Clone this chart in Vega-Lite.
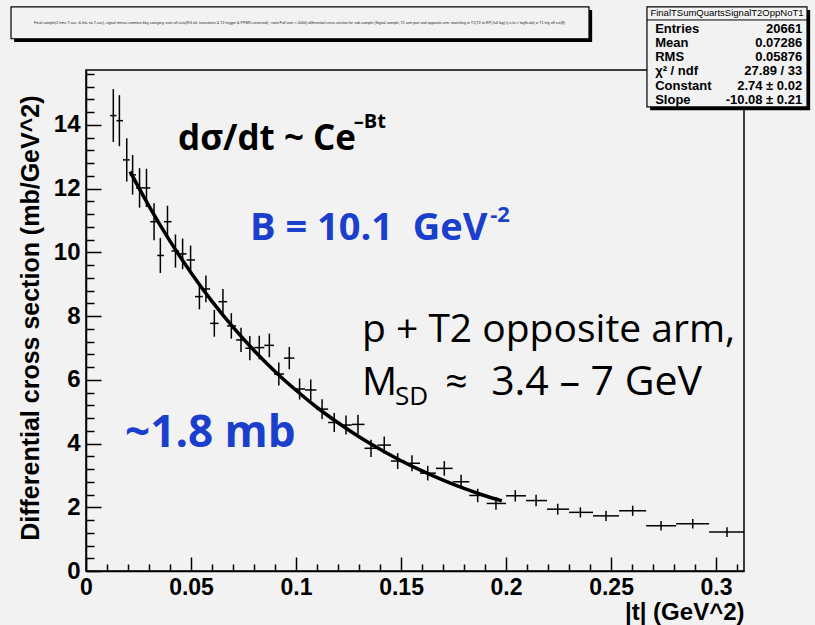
{
  "$schema": "https://vega.github.io/schema/vega-lite/v6.json",
  "width": 658,
  "height": 501,
  "autosize": {"type": "none"},
  "padding": {"left": 86, "top": 70, "right": 71, "bottom": 54},
  "background": "#f2f2f2",
  "config": {"view": {"stroke": "black", "strokeWidth": 1.5, "fill": "#f2f2f2"}},
  "resolve": {"axis": {"x": "independent", "y": "independent"}},
  "datasets": {
    "points": [
      {"t": 0.0130, "v": 14.29, "lo": 13.46, "hi": 15.12, "tlo": 0.0115, "thi": 0.0145},
      {"t": 0.0159, "v": 14.13, "lo": 13.33, "hi": 14.93, "tlo": 0.0145, "thi": 0.0176},
      {"t": 0.0194, "v": 12.90, "lo": 12.22, "hi": 13.58, "tlo": 0.0176, "thi": 0.0208},
      {"t": 0.0222, "v": 12.43, "lo": 11.81, "hi": 13.05, "tlo": 0.0208, "thi": 0.0238},
      {"t": 0.0255, "v": 12.02, "lo": 11.40, "hi": 12.64, "tlo": 0.0238, "thi": 0.0271},
      {"t": 0.0288, "v": 12.02, "lo": 11.42, "hi": 12.62, "tlo": 0.0271, "thi": 0.0306},
      {"t": 0.0324, "v": 10.96, "lo": 10.38, "hi": 11.54, "tlo": 0.0306, "thi": 0.0339},
      {"t": 0.0354, "v": 9.90, "lo": 9.35, "hi": 10.45, "tlo": 0.0339, "thi": 0.0371},
      {"t": 0.0388, "v": 10.96, "lo": 10.46, "hi": 11.46, "tlo": 0.0371, "thi": 0.0407},
      {"t": 0.0426, "v": 10.04, "lo": 9.52, "hi": 10.56, "tlo": 0.0407, "thi": 0.0443},
      {"t": 0.0460, "v": 9.95, "lo": 9.47, "hi": 10.43, "tlo": 0.0443, "thi": 0.0479},
      {"t": 0.0498, "v": 9.76, "lo": 9.31, "hi": 10.21, "tlo": 0.0479, "thi": 0.0519},
      {"t": 0.0540, "v": 8.61, "lo": 8.21, "hi": 9.01, "tlo": 0.0519, "thi": 0.0556},
      {"t": 0.0571, "v": 8.85, "lo": 8.43, "hi": 9.27, "tlo": 0.0556, "thi": 0.0591},
      {"t": 0.0611, "v": 7.77, "lo": 7.35, "hi": 8.19, "tlo": 0.0591, "thi": 0.0631},
      {"t": 0.0652, "v": 8.45, "lo": 8.05, "hi": 8.85, "tlo": 0.0631, "thi": 0.0672},
      {"t": 0.0692, "v": 7.69, "lo": 7.29, "hi": 8.09, "tlo": 0.0672, "thi": 0.0715},
      {"t": 0.0738, "v": 7.25, "lo": 6.87, "hi": 7.63, "tlo": 0.0715, "thi": 0.0759},
      {"t": 0.0780, "v": 6.99, "lo": 6.61, "hi": 7.37, "tlo": 0.0759, "thi": 0.0802},
      {"t": 0.0825, "v": 7.01, "lo": 6.64, "hi": 7.38, "tlo": 0.0802, "thi": 0.0849},
      {"t": 0.0873, "v": 7.08, "lo": 6.71, "hi": 7.45, "tlo": 0.0849, "thi": 0.0895},
      {"t": 0.0918, "v": 6.18, "lo": 5.82, "hi": 6.54, "tlo": 0.0895, "thi": 0.0943},
      {"t": 0.0968, "v": 6.68, "lo": 6.33, "hi": 7.03, "tlo": 0.0943, "thi": 0.0992},
      {"t": 0.1017, "v": 5.71, "lo": 5.38, "hi": 6.04, "tlo": 0.0992, "thi": 0.1043},
      {"t": 0.1070, "v": 5.68, "lo": 5.35, "hi": 6.01, "tlo": 0.1043, "thi": 0.1097},
      {"t": 0.1124, "v": 5.08, "lo": 4.77, "hi": 5.39, "tlo": 0.1097, "thi": 0.1153},
      {"t": 0.1182, "v": 4.66, "lo": 4.36, "hi": 4.96, "tlo": 0.1153, "thi": 0.1210},
      {"t": 0.1238, "v": 4.58, "lo": 4.28, "hi": 4.88, "tlo": 0.1210, "thi": 0.1266},
      {"t": 0.1295, "v": 4.60, "lo": 4.30, "hi": 4.90, "tlo": 0.1266, "thi": 0.1326},
      {"t": 0.1357, "v": 3.85, "lo": 3.58, "hi": 4.12, "tlo": 0.1326, "thi": 0.1388},
      {"t": 0.1420, "v": 3.95, "lo": 3.68, "hi": 4.22, "tlo": 0.1388, "thi": 0.1452},
      {"t": 0.1484, "v": 3.45, "lo": 3.20, "hi": 3.70, "tlo": 0.1452, "thi": 0.1518},
      {"t": 0.1552, "v": 3.38, "lo": 3.13, "hi": 3.63, "tlo": 0.1518, "thi": 0.1590},
      {"t": 0.1627, "v": 3.07, "lo": 2.84, "hi": 3.30, "tlo": 0.1590, "thi": 0.1666},
      {"t": 0.1706, "v": 3.22, "lo": 2.99, "hi": 3.45, "tlo": 0.1666, "thi": 0.1746},
      {"t": 0.1786, "v": 2.80, "lo": 2.58, "hi": 3.02, "tlo": 0.1746, "thi": 0.1825},
      {"t": 0.1865, "v": 2.37, "lo": 2.16, "hi": 2.58, "tlo": 0.1825, "thi": 0.1908},
      {"t": 0.1952, "v": 2.12, "lo": 1.92, "hi": 2.32, "tlo": 0.1908, "thi": 0.2000},
      {"t": 0.2044, "v": 2.36, "lo": 2.18, "hi": 2.54, "tlo": 0.2000, "thi": 0.2095},
      {"t": 0.2143, "v": 2.21, "lo": 2.03, "hi": 2.39, "tlo": 0.2095, "thi": 0.2195},
      {"t": 0.2246, "v": 1.94, "lo": 1.77, "hi": 2.11, "tlo": 0.2195, "thi": 0.2300},
      {"t": 0.2354, "v": 1.84, "lo": 1.68, "hi": 2.00, "tlo": 0.2300, "thi": 0.2414},
      {"t": 0.2476, "v": 1.73, "lo": 1.57, "hi": 1.89, "tlo": 0.2414, "thi": 0.2538},
      {"t": 0.2603, "v": 1.89, "lo": 1.73, "hi": 2.05, "tlo": 0.2538, "thi": 0.2667},
      {"t": 0.2738, "v": 1.42, "lo": 1.27, "hi": 1.57, "tlo": 0.2667, "thi": 0.2810},
      {"t": 0.2889, "v": 1.48, "lo": 1.33, "hi": 1.63, "tlo": 0.2810, "thi": 0.2967},
      {"t": 0.3052, "v": 1.22, "lo": 1.07, "hi": 1.37, "tlo": 0.2967, "thi": 0.3133}
    ],
    "fit": [
      {"t": 0.021, "f": 12.53}, {"t": 0.03, "f": 11.45}, {"t": 0.04, "f": 10.35},
      {"t": 0.05, "f": 9.36}, {"t": 0.06, "f": 8.46}, {"t": 0.07, "f": 7.65},
      {"t": 0.08, "f": 6.92}, {"t": 0.09, "f": 6.26}, {"t": 0.10, "f": 5.67},
      {"t": 0.11, "f": 5.13}, {"t": 0.12, "f": 4.65}, {"t": 0.13, "f": 4.21},
      {"t": 0.14, "f": 3.82}, {"t": 0.15, "f": 3.46}, {"t": 0.16, "f": 3.14},
      {"t": 0.17, "f": 2.85}, {"t": 0.18, "f": 2.59}, {"t": 0.19, "f": 2.36},
      {"t": 0.198, "f": 2.2}
    ],
    "one": [{}]
  },
  "layer": [
    {
      "data": {"name": "points"},
      "mark": {"type": "rule", "stroke": "black", "strokeWidth": 1.5},
      "encoding": {
        "x": {
          "field": "t", "type": "quantitative",
          "scale": {"domain": [0, 0.3133], "nice": false, "zero": false},
          "axis": {
            "orient": "bottom",
            "values": [0, 0.05, 0.1, 0.15, 0.2, 0.25, 0.3],
            "format": "~g",
            "tickSize": -14,
            "tickColor": "black", "tickWidth": 1.5, "domainColor": "black", "domainWidth": 1.5,
            "grid": false, "labelFont": "Liberation Sans", "labelFontWeight": "bold", "labelFontSize": 23,
            "labelColor": "black", "labelPadding": 19, "labelFlush": false, "labelOverlap": false,
            "title": "|t| (GeV^2)", "titleFont": "Liberation Sans", "titleFontWeight": "bold", "titleFontSize": 24,
            "titleColor": "black", "titleAnchor": "end", "titleAlign": "right", "titleBaseline": "alphabetic",
            "titleX": 658, "titleY": 48
          }
        },
        "y": {
          "field": "lo", "type": "quantitative",
          "scale": {"domain": [0, 15.72], "nice": false, "zero": false},
          "axis": {
            "orient": "left",
            "values": [0, 2, 4, 6, 8, 10, 12, 14],
            "format": "~g",
            "tickSize": -15,
            "tickColor": "black", "tickWidth": 1.5, "domainColor": "black", "domainWidth": 1.5,
            "grid": false, "labelFont": "Liberation Sans", "labelFontWeight": "bold", "labelFontSize": 24,
            "labelColor": "black", "labelPadding": 21, "labelFlush": false, "labelOverlap": false,
            "title": "Differential cross section (mb/GeV^2)", "titleFont": "Liberation Sans", "titleFontWeight": "bold",
            "titleFontSize": 25, "titleColor": "black", "titleAnchor": "end", "titleAngle": 270,
            "titleAlign": "right", "titleBaseline": "middle", "titleX": -56, "titleY": 25
          }
        },
        "y2": {"field": "hi"}
      }
    },
    {
      "data": {"name": "points"},
      "mark": {"type": "rule", "stroke": "black", "strokeWidth": 1.5},
      "encoding": {
        "x": {"field": "tlo", "type": "quantitative", "axis": {
            "orient": "bottom",
            "values": [0.01, 0.02, 0.03, 0.04, 0.06, 0.07, 0.08, 0.09, 0.11, 0.12, 0.13, 0.14, 0.16, 0.17, 0.18, 0.19, 0.21, 0.22, 0.23, 0.24, 0.26, 0.27, 0.28, 0.29, 0.31],
            "tickSize": -7, "tickColor": "black", "tickWidth": 1.5, "labels": false, "domain": false, "grid": false, "title": null}},
        "x2": {"field": "thi"},
        "y": {"field": "v", "type": "quantitative", "axis": {
            "orient": "left",
            "values": [0.4, 0.8, 1.2, 1.6, 2.4, 2.8, 3.2, 3.6, 4.4, 4.8, 5.2, 5.6, 6.4, 6.8, 7.2, 7.6, 8.4, 8.8, 9.2, 9.6, 10.4, 10.8, 11.2, 11.6, 12.4, 12.8, 13.2, 13.6, 14.4, 14.8, 15.2, 15.6],
            "tickSize": -8, "tickColor": "black", "tickWidth": 1.5, "labels": false, "domain": false, "grid": false, "title": null}}
      }
    },
    {
      "data": {"name": "fit"},
      "mark": {"type": "line", "stroke": "black", "strokeWidth": 3.5, "interpolate": "monotone"},
      "encoding": {
        "x": {"field": "t", "type": "quantitative", "axis": null},
        "y": {"field": "f", "type": "quantitative", "axis": null}
      }
    },
    {
      "data": {"name": "one"},
      "mark": {"type": "text", "text": "dσ/dt ~ Ce", "font": "Open Sans", "fontWeight": "bold", "fontSize": 35, "align": "left", "baseline": "alphabetic", "color": "black", "clip": false},
      "encoding": {
        "x": {"datum": 0.0438, "type": "quantitative", "axis": null},
        "y": {"datum": 13.21, "type": "quantitative", "axis": null}
      }
    },
    {
      "data": {"name": "one"},
      "mark": {"type": "text", "text": "–Bt", "font": "Open Sans", "fontWeight": "bold", "fontSize": 20, "align": "left", "baseline": "alphabetic", "color": "black", "clip": false},
      "encoding": {
        "x": {"datum": 0.1275, "type": "quantitative", "axis": null},
        "y": {"datum": 13.90, "type": "quantitative", "axis": null}
      }
    },
    {
      "data": {"name": "one"},
      "mark": {"type": "text", "text": "B = 10.1\u00a0 GeV", "font": "Open Sans", "fontWeight": "bold", "fontSize": 38, "align": "left", "baseline": "alphabetic", "color": "#1a3fcc", "clip": false},
      "encoding": {
        "x": {"datum": 0.0781, "type": "quantitative", "axis": null},
        "y": {"datum": 10.39, "type": "quantitative", "axis": null}
      }
    },
    {
      "data": {"name": "one"},
      "mark": {"type": "text", "text": "-2", "font": "Open Sans", "fontWeight": "bold", "fontSize": 22, "align": "left", "baseline": "alphabetic", "color": "#1a3fcc", "clip": false},
      "encoding": {
        "x": {"datum": 0.1925, "type": "quantitative", "axis": null},
        "y": {"datum": 10.95, "type": "quantitative", "axis": null}
      }
    },
    {
      "data": {"name": "one"},
      "mark": {"type": "text", "text": "p + T2 opposite arm,", "font": "Open Sans", "fontSize": 39, "align": "left", "baseline": "alphabetic", "color": "black", "clip": false},
      "encoding": {
        "x": {"datum": 0.1314, "type": "quantitative", "axis": null},
        "y": {"datum": 7.19, "type": "quantitative", "axis": null}
      }
    },
    {
      "data": {"name": "one"},
      "mark": {"type": "text", "text": "M", "font": "Open Sans", "fontSize": 39, "align": "left", "baseline": "alphabetic", "color": "black", "clip": false},
      "encoding": {
        "x": {"datum": 0.1314, "type": "quantitative", "axis": null},
        "y": {"datum": 5.52, "type": "quantitative", "axis": null}
      }
    },
    {
      "data": {"name": "one"},
      "mark": {"type": "text", "text": "SD", "font": "Open Sans", "fontSize": 26, "align": "left", "baseline": "alphabetic", "color": "black", "clip": false},
      "encoding": {
        "x": {"datum": 0.1471, "type": "quantitative", "axis": null},
        "y": {"datum": 5.21, "type": "quantitative", "axis": null}
      }
    },
    {
      "data": {"name": "one"},
      "mark": {"type": "text", "text": "≈", "font": "Open Sans", "fontSize": 39, "align": "left", "baseline": "alphabetic", "color": "black", "clip": false},
      "encoding": {
        "x": {"datum": 0.171, "type": "quantitative", "axis": null},
        "y": {"datum": 5.52, "type": "quantitative", "axis": null}
      }
    },
    {
      "data": {"name": "one"},
      "mark": {"type": "text", "text": "3.4 – 7 GeV", "font": "Open Sans", "fontSize": 41, "align": "left", "baseline": "alphabetic", "color": "black", "clip": false},
      "encoding": {
        "x": {"datum": 0.1929, "type": "quantitative", "axis": null},
        "y": {"datum": 5.52, "type": "quantitative", "axis": null}
      }
    },
    {
      "data": {"name": "one"},
      "mark": {"type": "text", "text": "~1.8 mb", "font": "Open Sans", "fontWeight": "bold", "fontSize": 44, "align": "left", "baseline": "alphabetic", "color": "#1a3fcc", "clip": false},
      "encoding": {
        "x": {"datum": 0.0186, "type": "quantitative", "axis": null},
        "y": {"datum": 3.89, "type": "quantitative", "axis": null}
      }
    },
    {
      "data": {"name": "one"},
      "mark": {"type": "rect", "fill": "black", "clip": false},
      "encoding": {
        "x": {"datum": 0.2410, "type": "quantitative", "axis": null},
        "x2": {"datum": -0.0342},
        "y": {"datum": 17.60, "type": "quantitative", "axis": null},
        "y2": {"datum": 16.60}
      }
    },
    {
      "data": {"name": "one"},
      "mark": {"type": "rect", "fill": "#f2f2f2", "stroke": "black", "strokeWidth": 1.2, "clip": false},
      "encoding": {
        "x": {"datum": 0.2395, "type": "quantitative", "axis": null},
        "x2": {"datum": -0.0357},
        "y": {"datum": 17.70, "type": "quantitative", "axis": null},
        "y2": {"datum": 16.70}
      }
    },
    {
      "data": {"name": "one"},
      "mark": {"type": "text", "text": "Final sample(2 trms T-suc, & hits no T-suc), signal minus common bkg category, over all cuts(RG alt. transitions & T2 trigger & PPBR corrected) : ratio Full over < 4000) differential cross section for sub-sample (Signal sample, T2 arm pair and opposite arm, matching in T1(T2 to RP) full log(-t) x-lo < logScale) = T1 trig off cut(8)", "font": "Liberation Sans", "fontSize": 3.7, "align": "center", "baseline": "middle", "color": "#222", "clip": false},
      "encoding": {
        "x": {"datum": 0.1017, "type": "quantitative", "axis": null},
        "y": {"datum": 17.2, "type": "quantitative", "axis": null}
      }
    },
    {
      "data": {"name": "one"},
      "mark": {"type": "rect", "fill": "black", "clip": false},
      "encoding": {
        "x": {"datum": 0.2686, "type": "quantitative", "axis": null},
        "x2": {"datum": 0.3448},
        "y": {"datum": 17.60, "type": "quantitative", "axis": null},
        "y2": {"datum": 14.46}
      }
    },
    {
      "data": {"name": "one"},
      "mark": {"type": "rect", "fill": "#f2f2f2", "stroke": "black", "strokeWidth": 1.2, "clip": false},
      "encoding": {
        "x": {"datum": 0.2671, "type": "quantitative", "axis": null},
        "x2": {"datum": 0.3433},
        "y": {"datum": 17.70, "type": "quantitative", "axis": null},
        "y2": {"datum": 14.56}
      }
    },
    {
      "data": {"name": "one"},
      "mark": {"type": "rule", "stroke": "black", "strokeWidth": 1, "clip": false},
      "encoding": {
        "x": {"datum": 0.2671, "type": "quantitative", "axis": null},
        "x2": {"datum": 0.3433},
        "y": {"datum": 17.29, "type": "quantitative", "axis": null}
      }
    },
    {
      "data": {"name": "one"},
      "mark": {"type": "text", "text": "FinalTSumQuartsSignalT2OppNoT1", "font": "Liberation Sans", "fontSize": 9.5, "align": "center", "baseline": "middle", "color": "black", "clip": false},
      "encoding": {
        "x": {"datum": 0.3052, "type": "quantitative", "axis": null},
        "y": {"datum": 17.5, "type": "quantitative", "axis": null}
      }
    },
    {
      "data": {"name": "one"},
      "mark": {"type": "text", "text": ["Entries", "Mean", "RMS", "χ² / ndf", "Constant", "Slope"], "font": "Liberation Sans", "fontWeight": "bold", "fontSize": 13, "lineHeight": 14.2, "align": "left", "baseline": "alphabetic", "color": "black", "clip": false},
      "encoding": {
        "x": {"datum": 0.2710, "type": "quantitative", "axis": null},
        "y": {"datum": 16.89, "type": "quantitative", "axis": null}
      }
    },
    {
      "data": {"name": "one"},
      "mark": {"type": "text", "text": ["20661", "0.07286", "0.05876", "27.89 / 33", "2.74 ± 0.02", "-10.08 ± 0.21"], "font": "Liberation Sans", "fontWeight": "bold", "fontSize": 13, "lineHeight": 14.2, "align": "right", "baseline": "alphabetic", "color": "black", "clip": false},
      "encoding": {
        "x": {"datum": 0.3410, "type": "quantitative", "axis": null},
        "y": {"datum": 16.89, "type": "quantitative", "axis": null}
      }
    }
  ]
}
